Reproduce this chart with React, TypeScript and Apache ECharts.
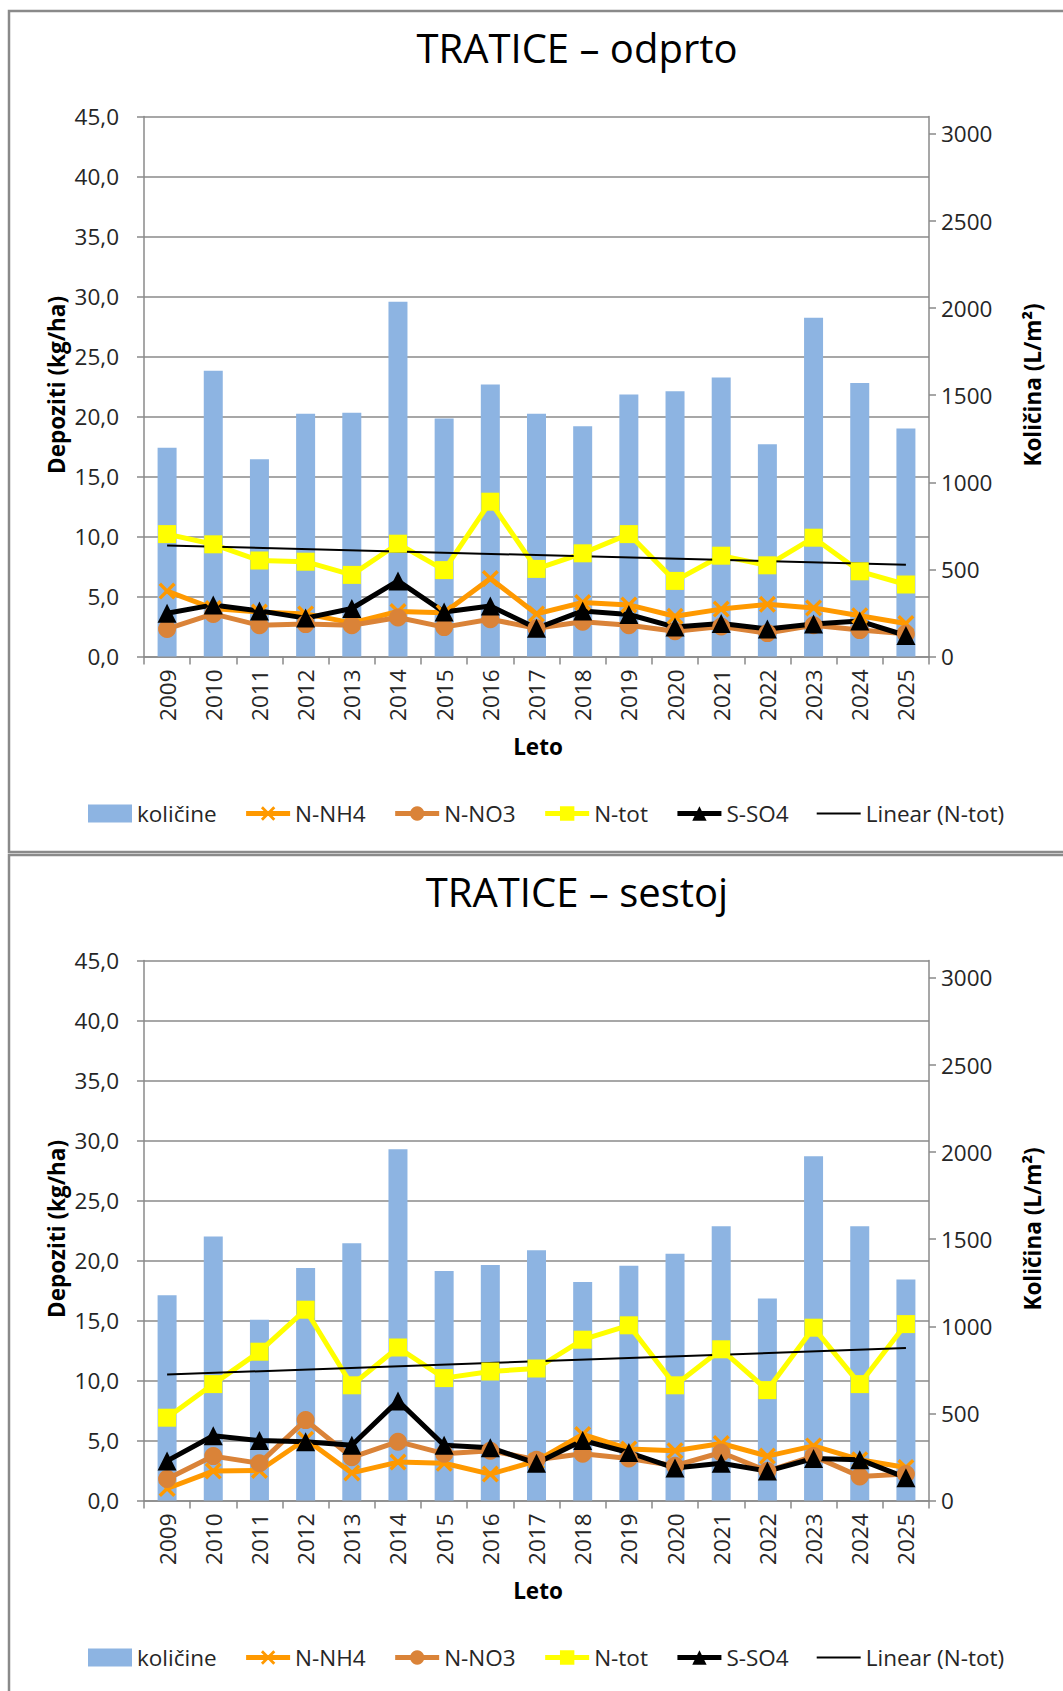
import React, { useEffect, useRef } from "react";
import * as echarts from "echarts";

const years = ["2009", "2010", "2011", "2012", "2013", "2014", "2015", "2016", "2017", "2018", "2019", "2020", "2021", "2022", "2023", "2024", "2025"];

// TRATICE – odprto
const topAmount = [1199, 1640, 1133, 1394, 1400, 2036, 1367, 1562, 1394, 1322, 1504, 1523, 1602, 1218, 1945, 1570, 1309];
const topNH4 = [5.45, 4.0, 3.7, 3.55, 2.8, 3.75, 3.65, 6.5, 3.55, 4.5, 4.3, 3.35, 3.95, 4.35, 4.05, 3.4, 2.75];
const topNO3 = [2.3, 3.55, 2.6, 2.7, 2.6, 3.25, 2.45, 3.1, 2.35, 2.9, 2.6, 2.1, 2.5, 1.95, 2.6, 2.2, 1.9];
const topNtot = [10.2, 9.35, 8.0, 7.9, 6.8, 9.4, 7.2, 12.9, 7.3, 8.6, 10.2, 6.3, 8.4, 7.6, 9.9, 7.1, 6.0];
const topSO4 = [3.6, 4.3, 3.8, 3.2, 4.0, 6.3, 3.7, 4.2, 2.35, 3.8, 3.5, 2.45, 2.75, 2.3, 2.7, 2.95, 1.75];
const topTrend = [9.25, 7.65]; // Linear (N-tot) at 2009 and 2025

// TRATICE – sestoj
const botAmount = [1178, 1515, 1037, 1335, 1477, 2016, 1318, 1352, 1436, 1255, 1348, 1417, 1574, 1159, 1976, 1574, 1269];
const botNH4 = [1.0, 2.45, 2.5, 5.1, 2.3, 3.2, 3.1, 2.2, 3.3, 5.5, 4.3, 4.15, 4.75, 3.7, 4.55, 3.4, 2.75];
const botNO3 = [1.8, 3.7, 3.1, 6.7, 3.6, 4.9, 3.9, 4.15, 3.4, 3.9, 3.5, 2.9, 4.0, 2.45, 3.7, 2.0, 2.2];
const botNtot = [6.9, 9.7, 12.4, 15.9, 9.6, 12.75, 10.2, 10.75, 11.0, 13.4, 14.6, 9.6, 12.6, 9.2, 14.4, 9.7, 14.7];
const botSO4 = [3.3, 5.4, 5.0, 4.9, 4.6, 8.3, 4.6, 4.4, 3.1, 5.0, 4.0, 2.7, 3.1, 2.45, 3.5, 3.4, 1.9];
const botTrend = [10.5, 12.7];

const rightTicks = [0, 500, 1000, 1500, 2000, 2500, 3000];
const titles = ["TRATICE – odprto", "TRATICE – sestoj"];
const seriesNames = ["količine", "N-NH4", "N-NO3", "N-tot", "S-SO4", "Linear (N-tot)"];

const FONT = "'Open Sans', 'Noto Sans', sans-serif";
const GRAY = "#8a8a8a";
const TXT = "#262626";
const FS = 22.5;
const OFFSET = 844;
const X_SYMBOL = "path://M0,1.4L1.4,0L5,3.6L8.6,0L10,1.4L6.4,5L10,8.6L8.6,10L5,6.4L1.4,10L0,8.6L3.6,5Z";

function panel(i: number, amount: number[], nh4: number[], no3: number[], ntot: number[], so4: number[], trend: number[]) {
  const dy = i * OFFSET;
  const grid = { left: 144, top: 116.5 + dy, width: 785, height: 540 };
  const xAxis = {
    type: "category",
    gridIndex: i,
    data: years,
    boundaryGap: true,
    axisLine: { show: true, lineStyle: { color: GRAY, width: 1.5 } },
    axisTick: { show: true, length: 8, lineStyle: { color: GRAY, width: 1.5 } },
    axisLabel: { rotate: 90, margin: 13, fontSize: FS, fontFamily: FONT, color: TXT },
    splitLine: { show: false },
  };
  const yLeft = {
    type: "value",
    gridIndex: i,
    min: 0,
    max: 45,
    interval: 5,
    axisLine: { show: true, lineStyle: { color: GRAY, width: 1.5 } },
    axisTick: { show: true, length: 7, lineStyle: { color: GRAY, width: 1.5 } },
    axisLabel: { margin: 25, fontSize: FS, fontFamily: FONT, color: TXT, formatter: (v: number) => v.toFixed(1).replace(".", ",") },
    splitLine: { show: true, lineStyle: { color: GRAY, width: 1.5 } },
  };
  const yRight = {
    type: "value",
    gridIndex: i,
    position: "right",
    min: 0,
    max: 3100,
    axisLine: { show: true, lineStyle: { color: GRAY, width: 1.5 } },
    axisTick: { show: true, length: 7, customValues: rightTicks, lineStyle: { color: GRAY, width: 1.5 } },
    axisLabel: { margin: 12, fontSize: FS, fontFamily: FONT, color: TXT, customValues: rightTicks, formatter: (v: number) => String(v) },
    splitLine: { show: false },
  };
  const li = i * 2;
  const ri = i * 2 + 1;
  const lineCommon = { type: "line", xAxisIndex: i, yAxisIndex: li, showSymbol: true };
  const series = [
    { name: seriesNames[0], type: "bar", xAxisIndex: i, yAxisIndex: ri, data: amount, barWidth: 19, itemStyle: { color: "#8DB4E2" } },
    { ...lineCommon, name: seriesNames[1], data: nh4, symbol: X_SYMBOL, symbolSize: 17, lineStyle: { color: "#FF9900", width: 5 }, itemStyle: { color: "#FF9900" } },
    { ...lineCommon, name: seriesNames[2], data: no3, symbol: "circle", symbolSize: 18, lineStyle: { color: "#DA8338", width: 5 }, itemStyle: { color: "#DA8338" } },
    { ...lineCommon, name: seriesNames[3], data: ntot, symbol: "rect", symbolSize: 18, lineStyle: { color: "#FFFF00", width: 5 }, itemStyle: { color: "#FFFF00" } },
    { ...lineCommon, name: seriesNames[4], data: so4, symbol: "triangle", symbolSize: 19, lineStyle: { color: "#000000", width: 5 }, itemStyle: { color: "#000000" } },
    { ...lineCommon, name: seriesNames[5], data: [[0, trend[0]], [years.length - 1, trend[1]]], symbol: "none", showSymbol: false, lineStyle: { color: "#000000", width: 2 }, itemStyle: { color: "#000000", opacity: 0 } },
  ];
  const thick = { width: 5 };
  const legend = {
    left: 83,
    top: 797 + dy,
    itemWidth: 44,
    itemHeight: 18,
    itemGap: 27,
    textStyle: { fontSize: FS, fontFamily: FONT, color: TXT },
    data: [
      { name: seriesNames[0], icon: "rect" },
      { name: seriesNames[1], lineStyle: thick },
      { name: seriesNames[2], lineStyle: thick },
      { name: seriesNames[3], lineStyle: thick },
      { name: seriesNames[4], lineStyle: thick },
      { name: seriesNames[5], lineStyle: { width: 2 }, itemStyle: { opacity: 0 } },
    ],
  };
  const graphic = [
    { type: "rect", silent: true, z: 0, shape: { x: 9, y: 11 + dy, width: 1080, height: 841 }, style: { fill: "none", stroke: GRAY, lineWidth: 2.5 } },
    { type: "text", silent: true, x: 577, y: 47 + dy, style: { text: titles[i], fontSize: 40, fontFamily: FONT, fill: "#000", align: "center", verticalAlign: "middle" } },
    { type: "text", silent: true, x: 56, y: 385 + dy, rotation: Math.PI / 2, style: { text: "Depoziti (kg/ha)", fontSize: FS, fontWeight: "bold", fontFamily: FONT, fill: "#000", align: "center", verticalAlign: "middle" } },
    { type: "text", silent: true, x: 1032, y: 385 + dy, rotation: Math.PI / 2, style: { text: "Količina (L/m²)", fontSize: FS, fontWeight: "bold", fontFamily: FONT, fill: "#000", align: "center", verticalAlign: "middle" } },
    { type: "text", silent: true, x: 538, y: 746 + dy, style: { text: "Leto", fontSize: FS, fontWeight: "bold", fontFamily: FONT, fill: "#000", align: "center", verticalAlign: "middle" } },
  ];
  return { grid, xAxis, yAxes: [yLeft, yRight], series, legend, graphic };
}

export default function App() {
  const ref = useRef<HTMLDivElement>(null);
  useEffect(() => {
    if (!ref.current) return;
    const chart = echarts.init(ref.current, undefined, { renderer: "svg" });
    const p0 = panel(0, topAmount, topNH4, topNO3, topNtot, topSO4, topTrend);
    const p1 = panel(1, botAmount, botNH4, botNO3, botNtot, botSO4, botTrend);
    chart.setOption({
      animation: false,
      backgroundColor: "#ffffff",
      grid: [p0.grid, p1.grid],
      xAxis: [p0.xAxis, p1.xAxis],
      yAxis: [...p0.yAxes, ...p1.yAxes],
      series: [...p0.series, ...p1.series],
      legend: [p0.legend, p1.legend],
      graphic: [...p0.graphic, ...p1.graphic],
      tooltip: { show: false },
    });
    return () => chart.dispose();
  }, []);
  return <div ref={ref} style={{ position: "absolute", left: 0, top: 0, width: 1063, height: 1691 }} />;
}
